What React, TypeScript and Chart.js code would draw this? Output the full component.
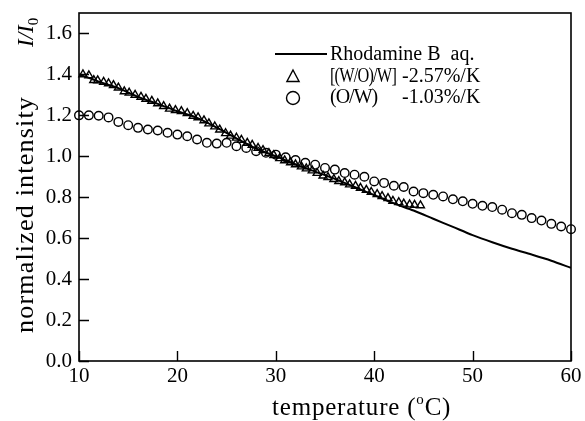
import { useEffect, useRef } from "react";
import { Chart, registerables } from "chart.js";

Chart.register(...registerables);

const SERIF = "'Liberation Serif', 'Times New Roman', serif";

// Rhodamine B aq. (solid line)
const lineTemps = [10, 12, 14, 16, 18, 20, 22, 24, 26, 28, 30, 32, 34, 36, 38, 40, 42, 44, 46, 48, 50, 52, 54, 56, 58, 60];
const lineValues = [1.4, 1.365, 1.333, 1.29, 1.256, 1.22, 1.188, 1.14, 1.088, 1.038, 1.0, 0.96, 0.925, 0.89, 0.85, 0.81, 0.77, 0.735, 0.695, 0.655, 0.615, 0.58, 0.548, 0.52, 0.49, 0.455];

// [(W/O)/W] triangles
const triTemps = [10.4, 11.0, 11.5, 11.9, 12.5, 13.0, 13.5, 14.0, 14.6, 15.1, 15.7, 16.3, 16.8, 17.4, 18.0, 18.6, 19.2, 19.8, 20.4, 21.0, 21.6, 22.1, 22.7, 23.2, 23.8, 24.3, 24.9, 25.4, 26.0, 26.5, 27.1, 27.6, 28.2, 28.7, 29.3, 29.8, 30.4, 30.9, 31.5, 32.0, 32.6, 33.1, 33.7, 34.2, 34.8, 35.3, 35.9, 36.4, 37.0, 37.5, 38.1, 38.6, 39.2, 39.7, 40.3, 40.8, 41.4, 41.9, 42.5, 43.0, 43.6, 44.1, 44.7];
const triValues = [1.40, 1.395, 1.372, 1.37, 1.363, 1.356, 1.347, 1.335, 1.317, 1.31, 1.30, 1.29, 1.28, 1.27, 1.258, 1.245, 1.232, 1.225, 1.22, 1.21, 1.197, 1.19, 1.175, 1.16, 1.145, 1.13, 1.112, 1.10, 1.09, 1.08, 1.065, 1.055, 1.04, 1.03, 1.015, 1.005, 0.99, 0.98, 0.97, 0.96, 0.95, 0.94, 0.93, 0.918, 0.905, 0.898, 0.888, 0.878, 0.872, 0.862, 0.855, 0.845, 0.835, 0.825, 0.815, 0.805, 0.795, 0.782, 0.775, 0.768, 0.764, 0.762, 0.76];

// (O/W) circles
const circTemps = [10, 11, 12, 13, 14, 15, 16, 17, 18, 19, 20, 21, 22, 23, 24, 25, 26, 27, 28, 29, 30, 31, 32, 33, 34, 35, 36, 37, 38, 39, 40, 41, 42, 43, 44, 45, 46, 47, 48, 49, 50, 51, 52, 53, 54, 55, 56, 57, 58, 59, 60];
const circValues = [1.20, 1.20, 1.198, 1.19, 1.168, 1.152, 1.139, 1.131, 1.126, 1.115, 1.106, 1.098, 1.082, 1.066, 1.062, 1.066, 1.049, 1.041, 1.025, 1.017, 1.008, 0.995, 0.982, 0.968, 0.959, 0.943, 0.935, 0.918, 0.91, 0.90, 0.877, 0.87, 0.856, 0.85, 0.828, 0.82, 0.812, 0.804, 0.79, 0.78, 0.768, 0.758, 0.752, 0.739, 0.722, 0.714, 0.698, 0.686, 0.67, 0.657, 0.644];

const legendLabels = ["Rhodamine B  aq.", "[(W/O)/W]", "(O/W)"];
const legendRates = ["", "-2.57%/K", "-1.03%/K"];

const xTitleMain = "temperature (";
const xTitleSup = "o";
const xTitleEnd = "C)";
const yTitleMain = "normalized intensity";
const yTitleItalic = "I/I";
const yTitleSub = "0";

const zip = (xs: number[], ys: number[]) => xs.map((x, i) => ({ x, y: ys[i] }));

function setSpacing(ctx: any, v: string) {
  if ("letterSpacing" in ctx) ctx.letterSpacing = v;
}

const decor = {
  id: "decor",
  afterDatasetsDraw(chart: any) {
    const { ctx, chartArea } = chart;
    const { left, right, top, bottom } = chartArea;
    const xs = chart.scales.x;
    const ys = chart.scales.y;
    ctx.save();
    ctx.strokeStyle = "#000";
    ctx.fillStyle = "#000";
    // frame
    ctx.lineWidth = 1.6;
    ctx.strokeRect(left, top, right - left, bottom - top);
    // inward ticks
    ctx.lineWidth = 1.4;
    ctx.beginPath();
    ys.ticks.forEach((t: any) => {
      const p = Math.round(ys.getPixelForValue(t.value)) + 0.5;
      ctx.moveTo(left, p);
      ctx.lineTo(left + 10, p);
    });
    xs.ticks.forEach((t: any) => {
      const p = Math.round(xs.getPixelForValue(t.value)) + 0.5;
      ctx.moveTo(p, bottom);
      ctx.lineTo(p, bottom - 10);
    });
    ctx.stroke();

    // legend
    const lx = left + 196;
    ctx.lineWidth = 2;
    ctx.beginPath();
    ctx.moveTo(lx, top + 41);
    ctx.lineTo(lx + 52, top + 41);
    ctx.stroke();
    ctx.lineWidth = 1.4;
    // triangle marker
    const tx = lx + 18, ty = top + 64, tr = 7;
    ctx.beginPath();
    ctx.moveTo(tx, ty - tr);
    ctx.lineTo(tx + tr * 0.87, ty + tr * 0.5 + 1);
    ctx.lineTo(tx - tr * 0.87, ty + tr * 0.5 + 1);
    ctx.closePath();
    ctx.stroke();
    // circle marker
    ctx.beginPath();
    ctx.arc(tx, top + 85, 6.5, 0, Math.PI * 2);
    ctx.stroke();

    ctx.font = `20px ${SERIF}`;
    ctx.textAlign = "left";
    ctx.textBaseline = "alphabetic";
    const rows = [top + 47, top + 69, top + 90];
    legendLabels.forEach((l, i) => {
      if (i === 0) {
        ctx.fillText(l, lx + 55, rows[i]);
      } else {
        setSpacing(ctx, "-1px");
        ctx.fillText(l, lx + 55, rows[i], 66);
        setSpacing(ctx, "0px");
      }
      if (legendRates[i]) ctx.fillText(legendRates[i], lx + 127, rows[i]);
    });

    // x title
    ctx.font = `25px ${SERIF}`;
    setSpacing(ctx, "0.8px");
    let cx = 272;
    const by = 415;
    ctx.fillText(xTitleMain, cx, by);
    cx += ctx.measureText(xTitleMain).width;
    ctx.font = `15px ${SERIF}`;
    ctx.fillText(xTitleSup, cx, by - 11);
    cx += ctx.measureText(xTitleSup).width;
    ctx.font = `25px ${SERIF}`;
    ctx.fillText(xTitleEnd, cx, by);

    // y title
    ctx.translate(33, 333);
    ctx.rotate(-Math.PI / 2);
    ctx.font = `26px ${SERIF}`;
    setSpacing(ctx, "1.2px");
    ctx.fillText(yTitleMain, 0, 0);
    setSpacing(ctx, "0px");
    ctx.font = `italic 23px ${SERIF}`;
    ctx.fillText(yTitleItalic, 286, 0);
    const w = ctx.measureText(yTitleItalic).width;
    ctx.font = `15px ${SERIF}`;
    ctx.fillText(yTitleSub, 286 + w, 5);
    ctx.restore();
  },
};

export default function App() {
  const ref = useRef<HTMLCanvasElement | null>(null);
  useEffect(() => {
    if (!ref.current) return;
    const chart = new Chart(ref.current, {
      type: "scatter",
      data: {
        datasets: [
          {
            label: legendLabels[0],
            data: zip(lineTemps, lineValues),
            showLine: true,
            borderColor: "#000",
            borderWidth: 2,
            pointRadius: 0,
            tension: 0.3,
          },
          {
            label: legendLabels[1],
            data: zip(triTemps, triValues),
            pointStyle: "triangle",
            pointRadius: 4.6,
            borderColor: "#000",
            backgroundColor: "rgba(0,0,0,0)",
            borderWidth: 1.4,
            clip: false,
          } as any,
          {
            label: legendLabels[2],
            data: zip(circTemps, circValues),
            pointStyle: "circle",
            pointRadius: 4.3,
            borderColor: "#000",
            backgroundColor: "rgba(0,0,0,0)",
            borderWidth: 1.4,
            clip: false,
          } as any,
        ],
      },
      options: {
        responsive: false,
        animation: false,
        devicePixelRatio: 1,
        layout: { padding: { top: 13, right: 14, left: 0, bottom: 0 } },
        plugins: { legend: { display: false }, tooltip: { enabled: false } },
        scales: {
          x: {
            type: "linear",
            min: 10,
            max: 60,
            grid: { display: false, drawTicks: false },
            border: { display: false },
            ticks: {
              stepSize: 10,
              padding: 3,
              color: "#000",
              font: { family: SERIF, size: 21 },
              maxRotation: 0,
            },
            afterFit: (s: any) => {
              s.height = 60;
            },
          },
          y: {
            type: "linear",
            min: 0,
            max: 1.7,
            grid: { display: false, drawTicks: true, tickLength: 7 },
            border: { display: false },
            ticks: {
              stepSize: 0.2,
              includeBounds: false,
              padding: 0,
              color: "#000",
              font: { family: SERIF, size: 21 },
              callback: (v: any) => Number(v).toFixed(1),
            },
            afterFit: (s: any) => {
              s.width = 79;
            },
          },
        },
      } as any,
      plugins: [decor],
    });
    return () => chart.destroy();
  }, []);
  return (
    <div style={{ position: "absolute", left: 0, top: 0, width: 585, height: 421, background: "#fff" }}>
      <canvas ref={ref} width={585} height={421} />
    </div>
  );
}
